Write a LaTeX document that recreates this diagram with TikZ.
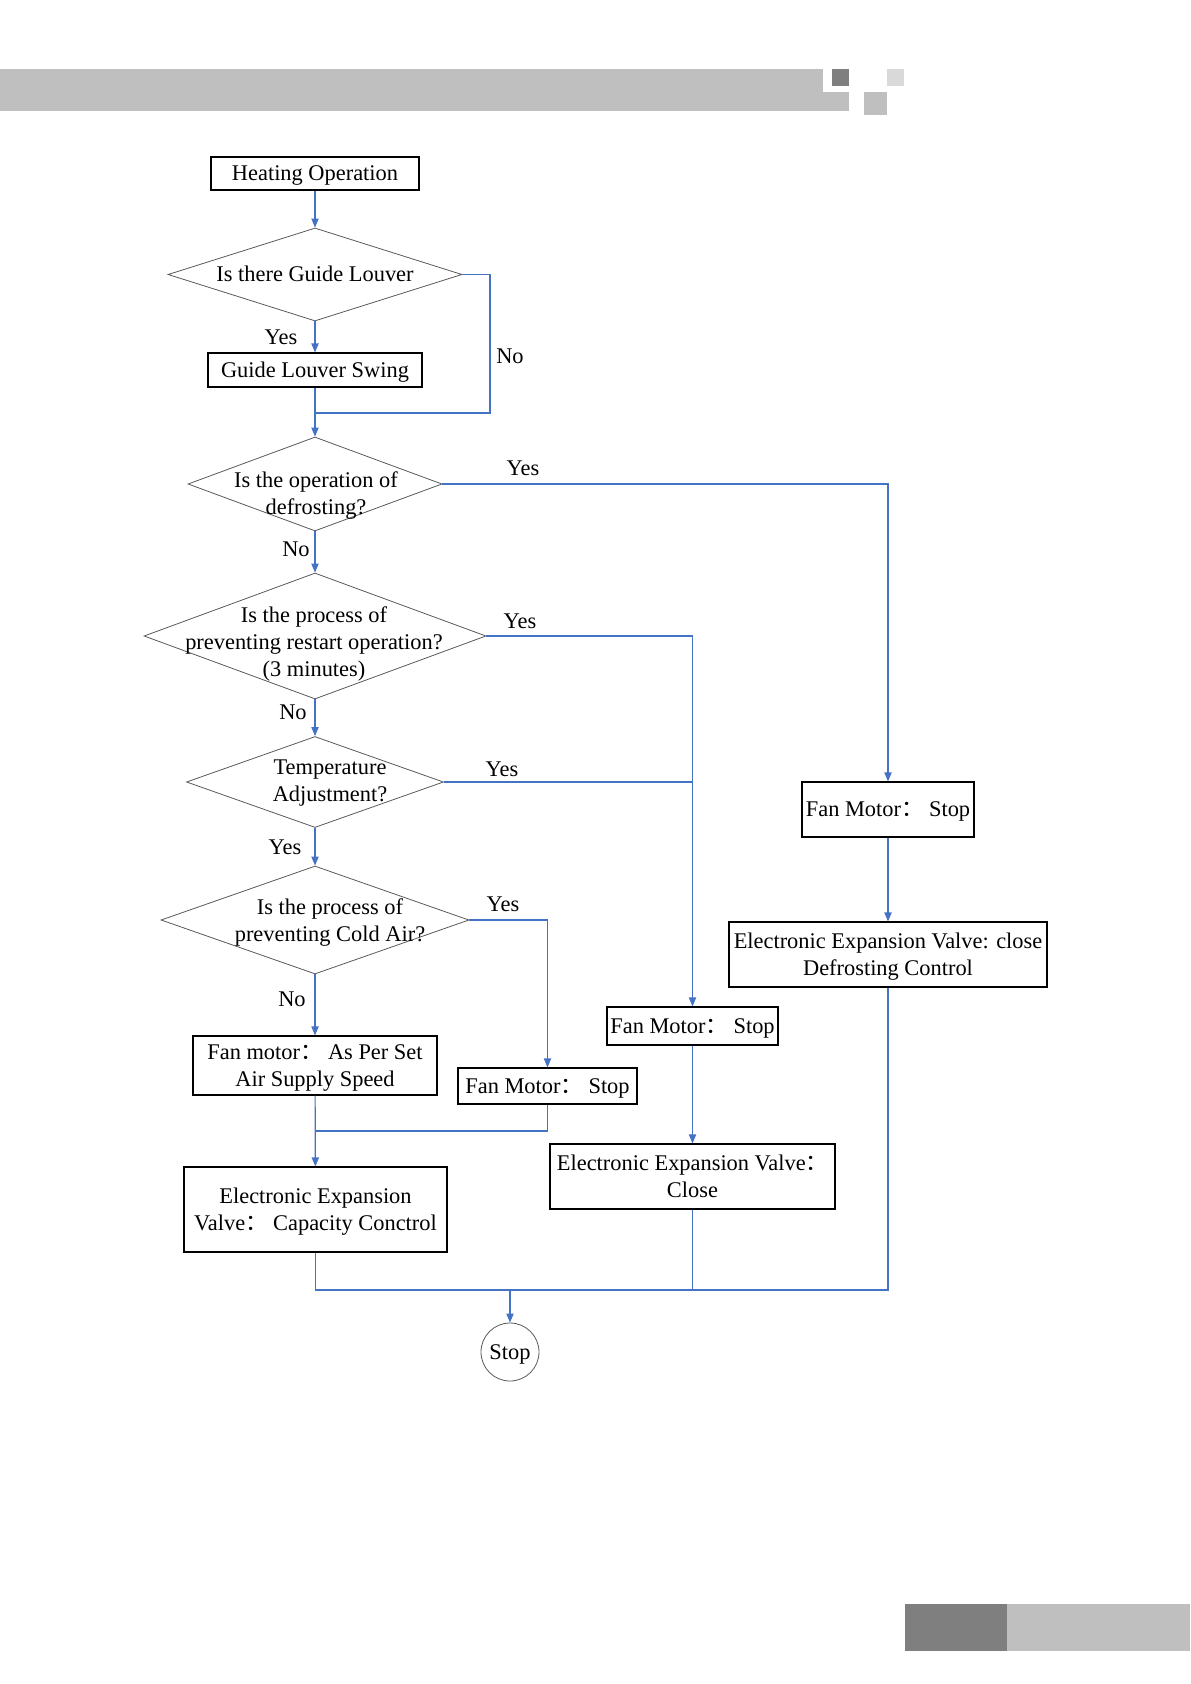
\documentclass[tikz,border=0pt]{standalone}
\usepackage{fontspec}
\setmainfont{Liberation Serif}
\newfontfamily\cjk{Noto Sans CJK SC}
\usetikzlibrary{shapes.geometric,arrows.meta}
\definecolor{flowBlue}{RGB}{68,114,196}
\definecolor{barGray}{RGB}{191,191,191}
\definecolor{barDark}{RGB}{127,127,127}
\definecolor{barLight}{RGB}{217,217,217}

\begin{document}
\begin{tikzpicture}[x=0.5pt,y=-0.5pt,
  font=\fontsize{11.2pt}{13.5pt}\selectfont,
  box/.style={draw,line width=0.55pt,inner sep=0pt,align=center,text depth=0pt},
  dec/.style={diamond,draw=black!65,line width=0.4pt,inner sep=0pt},
  txt/.style={inner sep=0pt,align=center,text depth=0pt},
  lbl/.style={inner sep=0pt},
  link/.style={draw=flowBlue,line width=0.6pt},
  flow/.style={link,-{Triangle[length=4.5pt,width=3.6pt]}}]
\useasboundingbox (0,0) rectangle (1190,1684);

% Page decoration
\fill[barGray] (0,69) rectangle (823,111);
\fill[barGray] (823,92) rectangle (849,111);
\fill[barDark] (832,69) rectangle (849,86);
\fill[barGray] (864,92) rectangle (887,115);
\fill[barLight] (887,69) rectangle (904,86);
\fill[barDark] (905,1604) rectangle (1007,1651);
\fill[barGray] (1007,1604) rectangle (1190,1651);

% Main column
\node[box,minimum width=104pt,minimum height=16.5pt] (heat) at (315,173.5) {Heating Operation};
\node[dec,minimum width=147pt,minimum height=46.5pt] (askLouver) at (315,274.5) {};
\node[txt] (askLouverTxt) at (315,274) {Is there Guide Louver};
\node[box,minimum width=107pt,minimum height=17pt] (swing) at (315,370) {Guide Louver Swing};
\node[dec,minimum width=127pt,minimum height=47pt] (askDefrost) at (315,484) {};
\node[txt] (askDefrostTxt) at (316,493) {Is the operation of\\defrosting?};
\node[dec,minimum width=171pt,minimum height=63pt] (askRestart) at (315,636) {};
\node[txt] (askRestartTxt) at (314,642) {Is the process of\\preventing restart operation?\\(3 minutes)};
\node[dec,minimum width=128.5pt,minimum height=45.5pt] (askTemp) at (315,782) {};
\node[txt] (askTempTxt) at (330,781) {Temperature\\Adjustment?};
\node[dec,minimum width=154pt,minimum height=54pt] (askCold) at (315,920) {};
\node[txt] (askColdTxt) at (330,920) {Is the process of\\preventing Cold Air?};
\node[box,minimum width=122pt,minimum height=29.5pt] (fanSet) at (315,1065.5) {Fan motor{\cjk ：} As Per Set\\Air Supply Speed};
\node[box,minimum width=131.5pt,minimum height=42.5pt] (eevCap) at (315.5,1209.5) {Electronic Expansion\\Valve{\cjk ：} Capacity Conctrol};

% Side columns
\node[box,minimum width=89.5pt,minimum height=18pt] (fanStopA) at (547.5,1086) {Fan Motor{\cjk ：} Stop};
\node[box,minimum width=85.5pt,minimum height=19pt] (fanStopB) at (692.5,1026) {Fan Motor{\cjk ：} Stop};
\node[box,minimum width=142.5pt,minimum height=32.5pt] (eevClose) at (692.5,1176.5) {Electronic Expansion Valve{\cjk ：}\\Close};
\node[box,minimum width=86pt,minimum height=27.5pt] (fanStopC) at (888,809.5) {Fan Motor{\cjk ：} Stop};
\node[box,minimum width=159pt,minimum height=32.5pt] (eevDefrost) at (888,954.5) {Electronic Expansion Valve: close\\Defrosting Control};
\node[circle,draw=black!65,line width=0.4pt,minimum size=29pt,inner sep=0pt,text depth=0pt] (stop) at (510,1352) {Stop};

% Branch labels
\node[lbl] (yesLouver) at (281,337) {Yes};
\node[lbl] (noLouver) at (510,356) {No};
\node[lbl] (yesDefrost) at (523,468) {Yes};
\node[lbl] (noDefrost) at (296,549) {No};
\node[lbl] (yesRestart) at (520,621) {Yes};
\node[lbl] (noRestart) at (293,712) {No};
\node[lbl] (yesTemp) at (502,769) {Yes};
\node[lbl] (yesTempDown) at (285,847) {Yes};
\node[lbl] (yesCold) at (503,904) {Yes};
\node[lbl] (noCold) at (292,999) {No};

% Junction points
\coordinate (jnLouver) at (490,413);
\coordinate (jnFan) at (315,1131);
\coordinate (jnEnd) at (510,1290);

% Connectors
\draw[flow] (heat) -- (askLouver);
\draw[flow] (askLouver) -- (swing);
\draw[link] (askLouver.east) -| (jnLouver) -- (jnLouver -| swing.south);
\draw[flow] (swing) -- (askDefrost);
\draw[flow] (askDefrost.east) -| (fanStopC.north);
\draw[flow] (askDefrost) -- (askRestart);
\draw[flow] (askRestart.east) -| (fanStopB.north);
\draw[flow] (askRestart) -- (askTemp);
\draw[link] (askTemp.east) -- (askTemp.east -| fanStopB.north);
\draw[flow] (askTemp) -- (askCold);
\draw[flow] (askCold.east) -| (fanStopA.north);
\draw[flow] (askCold) -- (fanSet);
\draw[flow] (fanSet) -- (eevCap);
\draw[link] (fanStopA.south) |- (jnFan);
\draw[flow] (fanStopB) -- (eevClose);
\draw[flow] (fanStopC) -- (eevDefrost);
\draw[link] (eevCap.south) |- (jnEnd -| eevDefrost.south) -- (eevDefrost.south);
\draw[link] (eevClose.south) -- (eevClose.south |- jnEnd);
\draw[flow] (jnEnd) -- (stop);
\end{tikzpicture}
\end{document}
